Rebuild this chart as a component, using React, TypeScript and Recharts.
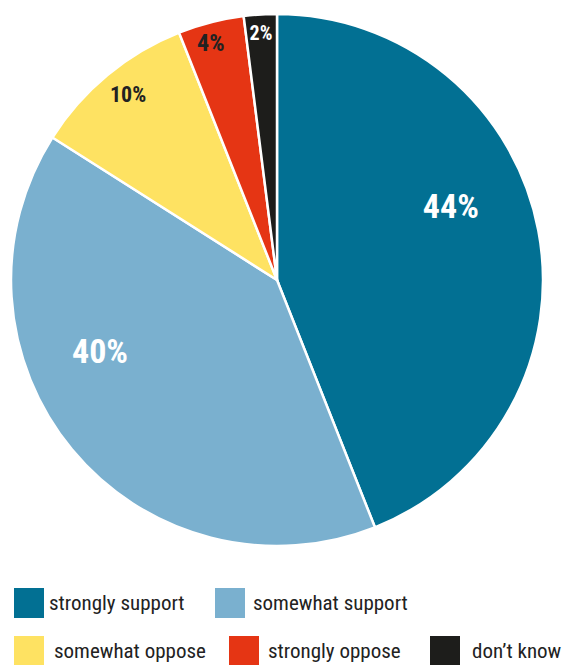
import { PieChart, Pie, Cell } from "recharts";

const categories = ["strongly support", "somewhat support", "somewhat oppose", "strongly oppose", "don’t know"];
const shares = [44, 40, 10, 4, 2];
const labels = ["44%", "40%", "10%", "4%", "2%"];

const colors = ["#027093", "#7AB0CF", "#FEE262", "#E53514", "#1D1D1B"];
const labelColors = ["#ffffff", "#ffffff", "#222222", "#222222", "#ffffff"];
// label placement tweaks: angle shift (deg, clockwise) and radius fraction
const labelPlace = [
  { dA: -12.2, r: 0.71, size: 34 },
  { dA: 17.7, r: 0.717, size: 34 },
  { dA: 0.9, r: 0.895, size: 22 },
  { dA: -1.2, r: 0.925, size: 24 },
  { dA: -0.1, r: 0.93, size: 20 },
];

const data = categories.map((name, i) => ({ name, value: shares[i], label: labels[i] }));
const total = shares.reduce((s, v) => s + v, 0);

const RAD = Math.PI / 180;
const labelFont = "'Liberation Sans Narrow', 'Roboto Condensed', Roboto, sans-serif";

function renderLabel(props: any) {
  const { cx, cy, outerRadius, index } = props;
  const p = labelPlace[index];
  // mid angle measured clockwise from 12 o'clock
  const before = shares.slice(0, index).reduce((s, v) => s + v, 0);
  const mid = ((before + shares[index] / 2) / total) * 360 + p.dA;
  const r = outerRadius * p.r;
  const x = cx + r * Math.sin(mid * RAD);
  const y = cy - r * Math.cos(mid * RAD);
  return (
    <text
      key={`lbl-${index}`}
      x={x}
      y={y}
      fill={labelColors[index]}
      fontSize={p.size}
      fontWeight={700}
      fontFamily={labelFont}
      textAnchor="middle"
      dominantBaseline="central"
    >
      {data[index].label}
    </text>
  );
}

// legend rows as in the original: 2 items, then 3 items
const legendSlots = [
  { x: 14, y: 588, tx: 49 },
  { x: 215, y: 588, tx: 253 },
  { x: 14, y: 636, tx: 54 },
  { x: 229, y: 636, tx: 268 },
  { x: 430, y: 636, tx: 472 },
];

export default function App() {
  return (
    <div style={{ position: "absolute", left: 0, top: 0, width: 566, height: 665, background: "#fff" }}>
      <PieChart width={566} height={665} margin={{ top: 0, right: 0, bottom: 0, left: 0 }}>
        <Pie
          data={data}
          dataKey="value"
          cx={277}
          cy={280}
          outerRadius={266}
          startAngle={90}
          endAngle={-270}
          stroke="#ffffff"
          strokeWidth={2.5}
          label={renderLabel}
          labelLine={false}
          isAnimationActive={false}
        >
          {data.map((d, i) => (
            <Cell key={d.name} fill={colors[i]} />
          ))}
        </Pie>
      </PieChart>
      {data.map((d, i) => (
        <div key={d.name}>
          <div
            style={{
              position: "absolute",
              left: legendSlots[i].x,
              top: legendSlots[i].y,
              width: 30,
              height: 30,
              background: colors[i],
            }}
          />
          <div
            style={{
              position: "absolute",
              left: legendSlots[i].tx,
              top: legendSlots[i].y + 15,
              transform: "translateY(-50%)",
              fontFamily: labelFont,
              fontSize: 21,
              color: "#222",
              whiteSpace: "nowrap",
              lineHeight: 1,
            }}
          >
            {d.name}
          </div>
        </div>
      ))}
    </div>
  );
}
